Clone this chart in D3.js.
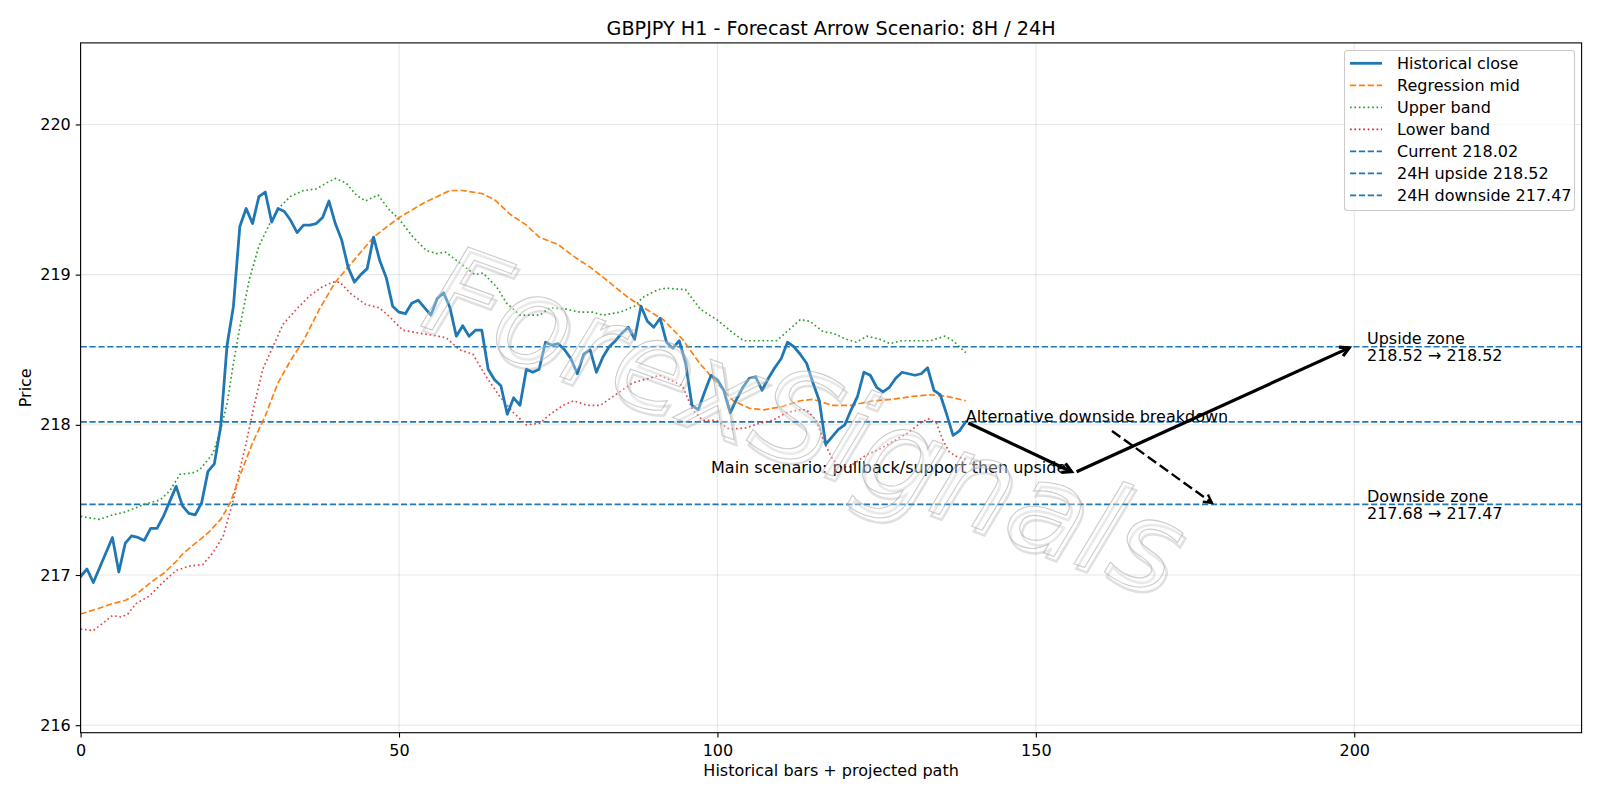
<!DOCTYPE html>
<html>
<head>
<meta charset="utf-8">
<script src="https://cdn.jsdelivr.net/npm/d3@7"></script>
<style>
  html, body { margin: 0; padding: 0; background: #fff; }
  svg { display: block; font-family: "DejaVu Sans", sans-serif; }
</style>
</head>
<body>
<div id="chart"></div>
<script>
// ---- data ----
const closeValues = [
  216.99, 217.04, 216.95, 217.05, 217.15, 217.25, 217.02, 217.21, 217.26, 217.25,
  217.23, 217.31, 217.31, 217.39, 217.49, 217.59, 217.46, 217.41, 217.40, 217.48,
  217.69, 217.74, 217.99, 218.53, 218.79, 219.32, 219.44, 219.34, 219.52, 219.55,
  219.35, 219.44, 219.42, 219.36, 219.28, 219.33, 219.33, 219.34, 219.38, 219.49,
  219.34, 219.23, 219.05, 218.95, 219.00, 219.04, 219.25, 219.09, 218.98, 218.79,
  218.75, 218.74, 218.81, 218.83, 218.78, 218.73, 218.84, 218.88, 218.78, 218.59,
  218.66, 218.59, 218.63, 218.63, 218.37, 218.30, 218.26, 218.07, 218.18, 218.13,
  218.37, 218.35, 218.37, 218.55, 218.53, 218.54, 218.50, 218.44, 218.34, 218.47,
  218.50, 218.35, 218.45, 218.52, 218.56, 218.61, 218.65, 218.57, 218.79, 218.69,
  218.65, 218.71, 218.55, 218.51, 218.56, 218.41, 218.13, 218.10, 218.22, 218.33,
  218.30, 218.23, 218.08, 218.17, 218.25, 218.31, 218.32, 218.23, 218.31, 218.38,
  218.44, 218.55, 218.52, 218.47, 218.41, 218.28, 218.16, 217.87, 217.92, 217.97,
  218.00, 218.10, 218.19, 218.35, 218.33, 218.25, 218.22, 218.25, 218.31, 218.35,
  218.34, 218.33, 218.34, 218.38, 218.23, 218.20, 218.07, 217.93, 217.96, 218.02
];

// [bar, price] samples of the smooth curves
const midPoints = [
  [0, 216.74], [3, 216.78], [5, 216.81], [7, 216.83], [9, 216.88], [11, 216.95], [13, 217.01],
  [15, 217.09], [16, 217.14], [18, 217.21], [20, 217.28], [22, 217.37], [23.5, 217.48], [25, 217.66],
  [27, 217.88], [29, 218.06], [31, 218.28], [33, 218.43], [35, 218.56], [37.5, 218.77], [40, 218.95],
  [43, 219.10], [46, 219.25], [50, 219.38], [54, 219.48], [58, 219.56], [60, 219.56], [63, 219.54],
  [65, 219.50], [67.5, 219.40], [70, 219.33], [72, 219.25], [75, 219.20], [77.5, 219.12], [80, 219.05],
  [83, 218.95], [85.6, 218.86], [88, 218.79], [91.5, 218.70], [94.5, 218.57], [97.2, 218.41],
  [99.9, 218.28], [102.5, 218.16], [105, 218.11], [107.3, 218.10], [110, 218.12], [113, 218.16],
  [115, 218.17], [118, 218.13], [121, 218.13], [124.5, 218.16], [127.5, 218.17], [130.7, 218.19],
  [133.3, 218.20], [136, 218.19], [139, 218.16]
];

const upperPoints = [
  [0, 217.39], [3, 217.37], [5, 217.40], [7, 217.42], [10, 217.47], [12.5, 217.50], [14, 217.56],
  [15.6, 217.67], [17.6, 217.68], [18.7, 217.70], [20.8, 217.81], [22, 217.97], [23, 218.14],
  [24, 218.41], [25, 218.65], [26.5, 218.97], [28, 219.19], [29.7, 219.34], [31.3, 219.45],
  [32.9, 219.52], [35, 219.56], [37, 219.57], [38.6, 219.61], [40, 219.64], [41.7, 219.61],
  [43.3, 219.53], [44.7, 219.49], [46.7, 219.53], [48.5, 219.43], [50, 219.37], [52.2, 219.25],
  [54.3, 219.16], [55.9, 219.14], [57.3, 219.15], [59.5, 219.08], [61.9, 219.00], [63.2, 219.01],
  [65.3, 218.92], [66.9, 218.81], [69, 218.73], [72.1, 218.73], [73.7, 218.78], [76.3, 218.77],
  [78.4, 218.75], [80.5, 218.75], [82, 218.73], [84.7, 218.75], [87, 218.79], [88.3, 218.85],
  [90.7, 218.90], [92, 218.91], [95, 218.90], [97.3, 218.77], [99.9, 218.70], [102.5, 218.61],
  [104.1, 218.56], [106.7, 218.56], [109.3, 218.56], [110.9, 218.62], [113, 218.70], [114.5, 218.69],
  [116.6, 218.62], [118.2, 218.61], [120.2, 218.57], [121.8, 218.55], [123.5, 218.59], [125.5, 218.57],
  [127.1, 218.54], [128.9, 218.56], [130.8, 218.56], [133.4, 218.56], [135.7, 218.59], [137, 218.56],
  [139, 218.48]
];

const lowerPoints = [
  [0, 216.64], [2, 216.63], [3.5, 216.68], [5, 216.73], [6.4, 216.72], [7.4, 216.74], [8.7, 216.81],
  [10.8, 216.86], [12.9, 216.95], [15, 217.03], [17.1, 217.06], [19.2, 217.07], [20.8, 217.15],
  [22.4, 217.26], [24, 217.50], [25, 217.70], [26, 217.88], [27.1, 218.10], [28.6, 218.37],
  [30.2, 218.52], [31.8, 218.67], [33.9, 218.77], [36, 218.86], [38, 218.92], [39.6, 218.95],
  [40.7, 218.95], [42.5, 218.87], [44.8, 218.80], [46.9, 218.78], [48.5, 218.72], [50.6, 218.63],
  [53.2, 218.61], [54.8, 218.60], [57.4, 218.58], [59.5, 218.50], [61.6, 218.47], [63.7, 218.32],
  [65.8, 218.19], [68, 218.08], [70, 218.00], [72.1, 218.01], [73.7, 218.07], [75.8, 218.13],
  [77.4, 218.16], [79.5, 218.13], [81.6, 218.13], [84, 218.20], [86.7, 218.28], [89.3, 218.31],
  [90.9, 218.33], [93, 218.29], [94.5, 218.26], [96.1, 218.10], [97.7, 218.03], [99.8, 218.03],
  [101.9, 217.97], [104.5, 217.98], [106.6, 218.01], [108.7, 218.03], [110.8, 218.08], [112.9, 218.10],
  [114, 218.10], [115.5, 218.03], [116.8, 217.88], [118.1, 217.77], [119.2, 217.72], [120.7, 217.72],
  [123.4, 217.80], [125.5, 217.84], [127.6, 217.89], [129.7, 217.94], [131.8, 218.01], [133.1, 218.04],
  [134.4, 218.01], [135.4, 217.90], [136.4, 217.82], [137.5, 217.79], [139, 217.77]
];

const levelNames = ["Current", "24H upside", "24H downside"];
const levelValues = [218.02, 218.52, 217.47];

// projected path: [bar, price]
const mainPath = [[139, 218.02], [156, 217.68], [199.6, 218.52]];
const altPath = [[161.6, 217.97], [178, 217.47]];

const xTicks = [0, 50, 100, 150, 200];
const yTicks = [216, 217, 218, 219, 220];
const xDomain = [0, 235.7];
const yDomain = [215.95, 220.543];

const titleText = "GBPJPY H1 - Forecast Arrow Scenario: 8H / 24H";
const xLabel = "Historical bars + projected path";
const yLabel = "Price";
const mainLabel = { text: "Main scenario: pullback/support then upside", x: 99, y: 217.68 };
const altLabel = { text: "Alternative downside breakdown", x: 139, y: 218.02 };
const zoneLabels = [
  { lines: ["Upside zone", "218.52 \u2192 218.52"], x: 202, y: 218.52 },
  { lines: ["Downside zone", "217.68 \u2192 217.47"], x: 202, y: 217.47 }
];
const watermark = "ForexSignals";

// ---- layout ----
const W = 1600, H = 800;
const plot = { left: 80.6, right: 1581.6, top: 42.9, bottom: 732.7 };
const blue = "#1f77b4", orange = "#ff7f0e", green = "#2ca02c", red = "#d62728";
const fs = 16;

const svg = d3.select("#chart").append("svg")
  .attr("width", W).attr("height", H);

const x = d3.scaleLinear().domain(xDomain).range([plot.left, plot.right]);
const y = d3.scaleLinear().domain(yDomain).range([plot.bottom, plot.top]);

svg.append("defs").append("clipPath").attr("id", "clip")
  .append("rect")
  .attr("x", plot.left).attr("y", plot.top)
  .attr("width", plot.right - plot.left).attr("height", plot.bottom - plot.top);

// grid
const grid = svg.append("g");
grid.selectAll(".gx").data(xTicks).enter().append("line")
  .attr("x1", d => x(d)).attr("x2", d => x(d))
  .attr("y1", plot.top).attr("y2", plot.bottom)
  .attr("stroke", "#b0b0b0").attr("stroke-opacity", 0.3).attr("stroke-width", 1.1);
grid.selectAll(".gy").data(yTicks).enter().append("line")
  .attr("x1", plot.left).attr("x2", plot.right)
  .attr("y1", d => y(d)).attr("y2", d => y(d))
  .attr("stroke", "#b0b0b0").attr("stroke-opacity", 0.3).attr("stroke-width", 1.1);

const g = svg.append("g").attr("clip-path", "url(#clip)");

const line = d3.line().x(d => x(d[0])).y(d => y(d[1]));

// horizontal levels
g.selectAll(".lvl").data(levelValues).enter().append("line")
  .attr("x1", plot.left).attr("x2", plot.right)
  .attr("y1", d => y(d)).attr("y2", d => y(d))
  .attr("stroke", blue).attr("stroke-width", 1.67)
  .attr("stroke-dasharray", "6.2,2.7");

g.append("path").datum(upperPoints).attr("d", line)
  .attr("fill", "none").attr("stroke", green).attr("stroke-width", 1.67)
  .attr("stroke-dasharray", "1.67,2.75");
g.append("path").datum(lowerPoints).attr("d", line)
  .attr("fill", "none").attr("stroke", red).attr("stroke-width", 1.67)
  .attr("stroke-opacity", 0.85).attr("stroke-dasharray", "1.67,2.75");
g.append("path").datum(midPoints).attr("d", line)
  .attr("fill", "none").attr("stroke", orange).attr("stroke-width", 1.67)
  .attr("stroke-dasharray", "6.2,2.7");
g.append("path").datum(closeValues.map((v, i) => [i, v])).attr("d", line)
  .attr("fill", "none").attr("stroke", blue).attr("stroke-width", 2.78)
  .attr("stroke-linejoin", "round").attr("stroke-linecap", "round");

// arrows
function arrow(p0, p1, opts) {
  const a = [x(p0[0]), y(p0[1])], b = [x(p1[0]), y(p1[1])];
  const dx = b[0] - a[0], dy = b[1] - a[1];
  const len = Math.hypot(dx, dy), ux = dx / len, uy = dy / len;
  const s = 2.8;
  const s0 = [a[0] + ux * s, a[1] + uy * s], s1 = [b[0] - ux * s, b[1] - uy * s];
  g.append("line")
    .attr("x1", s0[0]).attr("y1", s0[1]).attr("x2", s1[0]).attr("y2", s1[1])
    .attr("stroke", "#000").attr("stroke-width", opts.width)
    .attr("stroke-dasharray", opts.dash || null);
  const hl = opts.head, hw = opts.head * 0.55;
  const back = [s1[0] - ux * hl, s1[1] - uy * hl];
  g.append("path")
    .attr("d", `M${back[0] - uy * hw},${back[1] + ux * hw}L${s1[0]},${s1[1]}L${back[0] + uy * hw},${back[1] - ux * hw}`)
    .attr("fill", "none").attr("stroke", "#000").attr("stroke-width", opts.width)
    .attr("stroke-linejoin", "miter");
}
arrow(mainPath[0], mainPath[1], { width: 3.2, head: 9 });
arrow(mainPath[1], mainPath[2], { width: 3.2, head: 9 });
arrow(altPath[0], altPath[1], { width: 2.4, head: 8, dash: "10.3,4.4" });

// annotation texts
g.append("text").attr("x", x(mainLabel.x)).attr("y", y(mainLabel.y))
  .attr("font-size", fs).text(mainLabel.text);
g.append("text").attr("x", x(altLabel.x)).attr("y", y(altLabel.y))
  .attr("font-size", fs).text(altLabel.text);
zoneLabels.forEach(z => {
  const t = g.append("text").attr("x", x(z.x)).attr("y", y(z.y)).attr("font-size", fs);
  z.lines.forEach((ln, k) => {
    t.append("tspan").attr("x", x(z.x)).attr("dy", k === 0 ? -2.8 : 17.3).text(ln);
  });
});

// watermark
const wx = 805, wy = 420;
const wm = svg.append("g").attr("transform", `translate(${wx},${wy}) rotate(20)`)
  .attr("font-size", 124).attr("font-style", "italic")
  .attr("text-anchor", "middle").attr("dominant-baseline", "central");
wm.append("text").attr("x", 4).attr("y", 4).text(watermark)
  .attr("fill", "none").attr("stroke", "#999").attr("stroke-opacity", 0.3).attr("stroke-width", 2.5);
wm.append("text").text(watermark)
  .attr("fill", "#fff").attr("fill-opacity", 0.3)
  .attr("stroke", "#aaa").attr("stroke-opacity", 0.6).attr("stroke-width", 1.1);

// axes
const xAxis = svg.append("g").attr("transform", `translate(0,${plot.bottom})`)
  .call(d3.axisBottom(x).tickValues(xTicks).tickSize(4.9).tickPadding(7).tickFormat(d3.format("d")));
const yAxis = svg.append("g").attr("transform", `translate(${plot.left},0)`)
  .call(d3.axisLeft(y).tickValues(yTicks).tickSize(4.9).tickPadding(4.9).tickFormat(d3.format("d")));
[xAxis, yAxis].forEach(a => {
  a.select(".domain").remove();
  a.selectAll(".tick line").attr("stroke", "#000").attr("stroke-width", 1.1);
  a.selectAll(".tick text").attr("font-family", "DejaVu Sans").attr("font-size", fs).attr("fill", "#000");
});

// frame
svg.append("rect")
  .attr("x", plot.left).attr("y", plot.top)
  .attr("width", plot.right - plot.left).attr("height", plot.bottom - plot.top)
  .attr("fill", "none").attr("stroke", "#000").attr("stroke-width", 1.1);

// titles
svg.append("text").attr("x", (plot.left + plot.right) / 2).attr("y", 34.5)
  .attr("text-anchor", "middle").attr("font-size", 19.2).text(titleText);
svg.append("text").attr("x", (plot.left + plot.right) / 2).attr("y", 776)
  .attr("text-anchor", "middle").attr("font-size", fs).text(xLabel);
svg.append("text").attr("transform", `translate(31,${(plot.top + plot.bottom) / 2}) rotate(-90)`)
  .attr("text-anchor", "middle").attr("font-size", fs).text(yLabel);

// legend
const legendItems = [
  { label: "Historical close", color: blue, width: 2.78, dash: null },
  { label: "Regression mid", color: orange, width: 1.67, dash: "6.2,2.7" },
  { label: "Upper band", color: green, width: 1.67, dash: "1.67,2.75" },
  { label: "Lower band", color: red, width: 1.67, dash: "1.67,2.75" }
].concat(levelNames.map((n, i) => ({
  label: `${n} ${levelValues[i].toFixed(2)}`, color: blue, width: 1.67, dash: "6.2,2.7"
})));

const lg = svg.append("g");
lg.append("rect").attr("x", 1344.5).attr("y", 50.5).attr("width", 230).attr("height", 160)
  .attr("rx", 3).attr("fill", "#fff").attr("fill-opacity", 0.8)
  .attr("stroke", "#ccc").attr("stroke-width", 1.1);
legendItems.forEach((d, i) => {
  const cy = 63.3 + i * 22;
  lg.append("line").attr("x1", 1350).attr("x2", 1382).attr("y1", cy).attr("y2", cy)
    .attr("stroke", d.color).attr("stroke-width", d.width).attr("stroke-dasharray", d.dash);
  lg.append("text").attr("x", 1397).attr("y", cy).attr("dy", "0.35em")
    .attr("font-size", fs).text(d.label);
});
</script>
</body>
</html>
